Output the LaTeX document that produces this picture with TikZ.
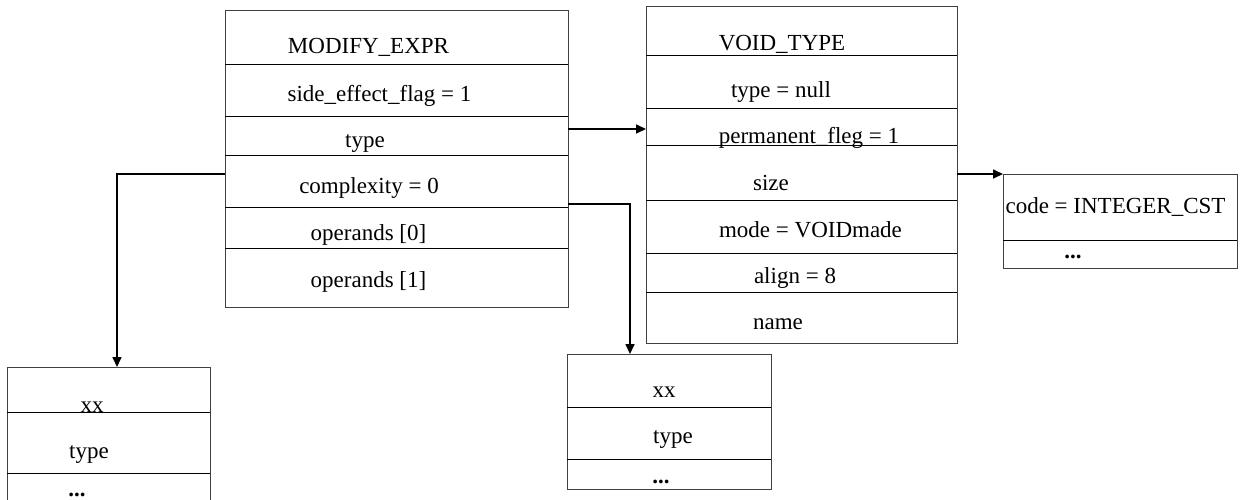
\documentclass[tikz,border=0pt]{standalone}
\usepackage{fontspec}
\setmainfont{Liberation Serif}
\usetikzlibrary{arrows.meta}
\tikzset{
  rec/.style={draw=black!75, line width=0.9pt, rectangle, inner sep=0pt, outer sep=0pt},
  div/.style={draw=black, line width=0.9pt},
  lbl/.style={anchor=base, inner sep=0pt, font=\fontsize{23}{27}\selectfont},
  dots/.style={lbl, font=\fontsize{23}{27}\selectfont\bfseries},
  arr/.style={draw=black, line width=1.6pt, -{Triangle[length=10pt,width=9pt]}},
}
\begin{document}
\begin{tikzpicture}[x=1pt,y=-1pt]
\useasboundingbox (0,0) rectangle (1245,499);
\clip (0,0) rectangle (1245,499);

% tree node MODIFY_EXPR
\node[rec, minimum width=343pt, minimum height=297pt] (mod) at (396.5,158.5) {};
\foreach \y in {64,116,155,207,248} \draw[div] (225,\y) -- (568,\y);
\node[lbl] (m1) at (368.5,53) {MODIFY\_EXPR};
\node[lbl] (m2) at (379.5,101) {side\_effect\_flag = 1};
\node[lbl] (m3) at (365,147) {type};
\node[lbl] (m4) at (369,193) {complexity = 0};
\node[lbl] (m5) at (368.5,240) {operands [0]};
\node[lbl] (m6) at (368.5,287) {operands [1]};

% tree node VOID_TYPE
\node[rec, minimum width=311pt, minimum height=337pt] (void) at (801.5,174.5) {};
\foreach \y in {55,108,145,200,253,292} \draw[div] (646,\y) -- (957,\y);
\node[lbl] (v1) at (782,50) {VOID\_TYPE};
\node[lbl] (v2) at (781,97) {type = null};
\node[lbl] (v3) at (809,143) {permanent\_fleg = 1};
\node[lbl] (v4) at (771,190) {size};
\node[lbl] (v5) at (810.5,237) {mode = VOIDmade};
\node[lbl] (v6) at (795,283) {align = 8};
\node[lbl] (v7) at (778,329) {name};

% INTEGER_CST node
\node[rec, minimum width=234pt, minimum height=94pt] (code) at (1120,221) {};
\draw[div] (1003,240) -- (1237,240);
\node[lbl] (c1) at (1115.5,213) {code = INTEGER\_CST};
\node[dots] (c2) at (1073,258) {...};

% operand 0
\node[rec, minimum width=203pt, minimum height=160pt] (lbox) at (108.5,447) {};
\draw[div] (7,412) -- (210,412);
\draw[div] (7,473) -- (210,473);
\node[lbl] (l1) at (92,412) {xx};
\node[lbl] (l2) at (89,458) {type};
\node[dots] (l3) at (77,496) {...};

% operand 1
\node[rec, minimum width=204pt, minimum height=135pt] (mbox) at (669,421.5) {};
\draw[div] (567,407) -- (771,407);
\draw[div] (567,459) -- (771,459);
\node[lbl] (b1) at (664,397) {xx};
\node[lbl] (b2) at (673,443) {type};
\node[dots] (b3) at (661,483) {...};

% pointers
\coordinate (ty) at (0,129);
\coordinate (k1) at (117,174);
\coordinate (k2) at (630,204);
\draw[arr] (mod.east |- ty) -- (void.west |- ty);
\draw[arr] (void.east |- code.north) -- (code.north west);
\draw[arr] (mod.west |- k1) -| (lbox.north -| k1);
\draw[arr] (mod.east |- k2) -| (mbox.north -| k2);
\end{tikzpicture}
\end{document}
